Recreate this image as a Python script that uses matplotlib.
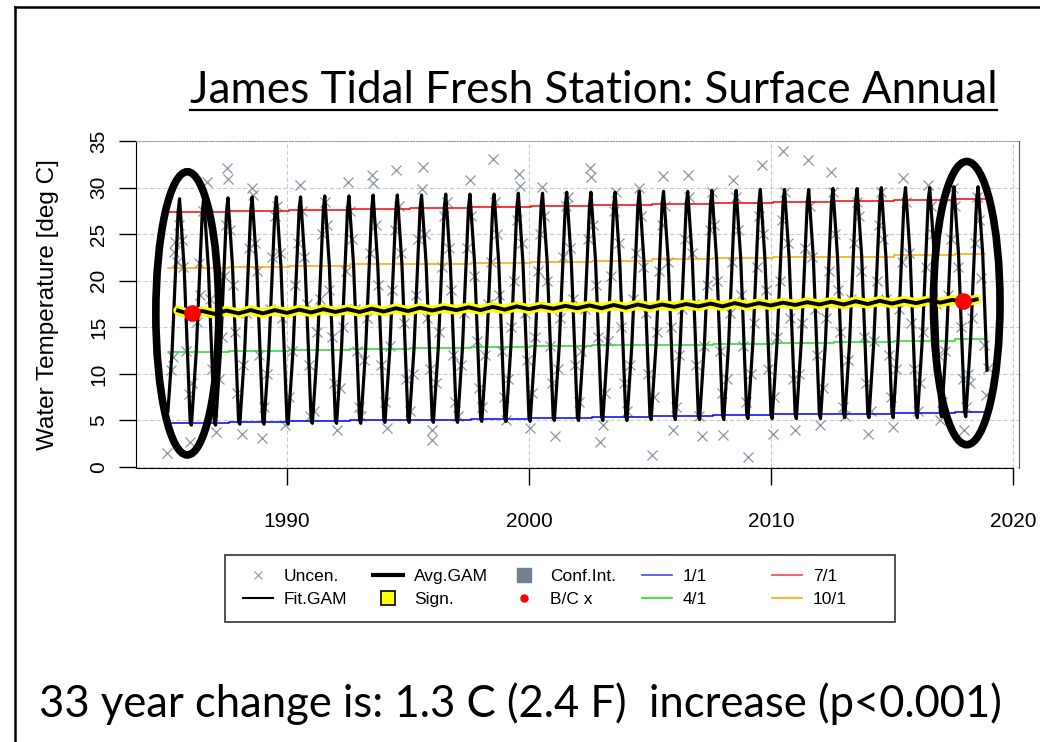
import numpy as np
import matplotlib
matplotlib.use('Agg')
import matplotlib.pyplot as plt
from matplotlib.lines import Line2D
from matplotlib.patches import Ellipse, Rectangle

plt.rcParams['font.family'] = ['Liberation Sans', 'DejaVu Sans']

# ---- data ----
# yearly summer peaks / winter troughs of the fitted GAM curve
peak_years = list(range(1985, 2019))
gam_peaks = [28.8, 28.9, 28.9, 29.0, 29.0, 29.0, 29.1, 29.1, 29.2, 29.2,
             29.2, 29.3, 29.3, 29.3, 29.4, 29.4, 29.5, 29.5, 29.5, 29.6,
             29.6, 29.6, 29.7, 29.7, 29.8, 29.8, 29.8, 29.9, 29.9, 30.0,
             30.0, 30.0, 30.1, 30.1]
trough_years = list(range(1986, 2019))
gam_troughs = [4.5, 4.5, 4.6, 4.6, 4.6, 4.7, 4.7, 4.7, 4.8, 4.8,
               4.8, 4.8, 4.9, 4.9, 4.9, 5.0, 5.0, 5.0, 5.0, 5.1,
               5.1, 5.1, 5.1, 5.2, 5.2, 5.2, 5.2, 5.3, 5.3, 5.3,
               5.3, 5.4, 5.4]
gam_start = (1985.08, 6.0)
gam_end = (2018.93, 10.4)

# mean GAM (half-year steps from 1985.5 to 2018.5)
avg_gam = [16.80,
           16.40, 16.75, 16.45, 16.80, 16.50, 16.85, 16.50, 16.85, 16.55, 16.90,
           16.60, 16.95, 16.65, 16.95, 16.65, 17.00, 16.70, 17.05, 16.75, 17.10,
           16.80, 17.10, 16.85, 17.15, 16.85, 17.20, 16.90, 17.25, 16.95, 17.25,
           17.00, 17.30, 17.05, 17.35, 17.05, 17.40, 17.10, 17.45, 17.15, 17.45,
           17.20, 17.50, 17.25, 17.55, 17.25, 17.60, 17.30, 17.60, 17.35, 17.65,
           17.40, 17.70, 17.45, 17.75, 17.45, 17.80, 17.50, 17.85, 17.55, 17.85,
           17.60, 17.90, 17.65, 17.95, 17.70, 18.00]

# seasonal (1/1, 4/1, 7/1, 10/1) GAM predictions, step lines
step_years = [1985.1, 1987.6, 1990.1, 1992.6, 1995.1, 1997.6, 2000.1,
              2002.6, 2005.1, 2007.6, 2010.1, 2012.6, 2015.1, 2017.6, 2018.85]
jan1 = [4.75, 4.85, 4.95, 5.05, 5.10, 5.20, 5.30, 5.40, 5.50, 5.55, 5.65, 5.75, 5.85, 5.95]
apr1 = [12.35, 12.45, 12.55, 12.65, 12.75, 12.85, 12.95, 13.05, 13.15, 13.25, 13.35, 13.45, 13.55, 13.70]
jul1 = [27.40, 27.50, 27.60, 27.70, 27.80, 27.90, 28.00, 28.10, 28.20, 28.30, 28.40, 28.55, 28.65, 28.80]
oct1 = [21.40, 21.50, 21.60, 21.75, 21.85, 21.95, 22.05, 22.15, 22.30, 22.40, 22.50, 22.60, 22.75, 22.90]

# baseline / current estimates
bc_year = [1986.07, 2017.93]
bc_temp = [16.5, 17.8]

# observations (uncensored)
obs_time = [
    1985.03, 1985.20, 1985.28, 1985.32, 1985.37, 1985.45, 1985.52, 1985.65, 1985.72, 1985.83, 1985.93,
    1986.00, 1986.06, 1986.27, 1986.38, 1986.40, 1986.52, 1986.68, 1986.75, 1986.82, 1986.90, 1986.96,
    1987.08, 1987.18, 1987.30, 1987.40, 1987.47, 1987.53, 1987.57, 1987.66, 1987.76, 1987.86, 1987.95,
    1988.13, 1988.20, 1988.31, 1988.42, 1988.54, 1988.61, 1988.68, 1988.77, 1988.85, 1988.95,
    1989.06, 1989.17, 1989.28, 1989.40, 1989.50, 1989.60, 1989.70, 1989.80, 1989.92,
    1990.08, 1990.22, 1990.33, 1990.44, 1990.54, 1990.62, 1990.72, 1990.82, 1990.90, 1990.97,
    1991.10, 1991.24, 1991.35, 1991.45, 1991.56, 1991.65, 1991.75, 1991.85, 1991.95,
    1992.07, 1992.18, 1992.30, 1992.42, 1992.53, 1992.60, 1992.70, 1992.80, 1992.88, 1992.97,
    1993.05, 1993.20, 1993.32, 1993.43, 1993.50, 1993.55, 1993.66, 1993.78, 1993.88,
    1994.04, 1994.12, 1994.25, 1994.35, 1994.45, 1994.50, 1994.62, 1994.72, 1994.84, 1994.93,
    1995.08, 1995.20, 1995.33, 1995.43, 1995.56, 1995.63, 1995.70, 1995.80, 1995.90, 1995.98,
    1996.00, 1996.15, 1996.28, 1996.40, 1996.50, 1996.60, 1996.68, 1996.78, 1996.87, 1996.95,
    1997.06, 1997.18, 1997.30, 1997.42, 1997.56, 1997.62, 1997.74, 1997.85, 1997.94,
    1998.05, 1998.20, 1998.32, 1998.43, 1998.53, 1998.58, 1998.68, 1998.78, 1998.88, 1998.96,
    1999.04, 1999.15, 1999.27, 1999.38, 1999.50, 1999.60, 1999.63, 1999.72, 1999.82, 1999.92,
    2000.04, 2000.14, 2000.26, 2000.37, 2000.46, 2000.52, 2000.64, 2000.75, 2000.86, 2000.95,
    2001.07, 2001.18, 2001.30, 2001.41, 2001.52, 2001.62, 2001.70, 2001.80, 2001.90,
    2002.05, 2002.17, 2002.30, 2002.42, 2002.52, 2002.55, 2002.66, 2002.77, 2002.87, 2002.93,
    2003.06, 2003.13, 2003.27, 2003.38, 2003.50, 2003.60, 2003.70, 2003.80, 2003.92,
    2004.05, 2004.18, 2004.30, 2004.42, 2004.54, 2004.62, 2004.72, 2004.82, 2004.92,
    2005.07, 2005.15, 2005.28, 2005.38, 2005.48, 2005.55, 2005.64, 2005.74, 2005.85, 2005.96,
    2006.08, 2006.20, 2006.32, 2006.44, 2006.58, 2006.62, 2006.72, 2006.82, 2006.92,
    2007.04, 2007.13, 2007.25, 2007.36, 2007.47, 2007.57, 2007.66, 2007.77, 2007.88, 2007.96,
    2008.03, 2008.17, 2008.30, 2008.40, 2008.44, 2008.55, 2008.65, 2008.76, 2008.86, 2008.95,
    2009.06, 2009.18, 2009.30, 2009.42, 2009.52, 2009.61, 2009.68, 2009.78, 2009.88,
    2010.09, 2010.14, 2010.27, 2010.38, 2010.46, 2010.51, 2010.60, 2010.70, 2010.80, 2010.92,
    2011.00, 2011.15, 2011.28, 2011.40, 2011.54, 2011.60, 2011.70, 2011.80, 2011.90,
    2012.03, 2012.16, 2012.28, 2012.40, 2012.50, 2012.58, 2012.66, 2012.76, 2012.86, 2012.96,
    2013.08, 2013.20, 2013.32, 2013.43, 2013.55, 2013.63, 2013.74, 2013.84, 2013.93,
    2014.02, 2014.12, 2014.25, 2014.37, 2014.48, 2014.56, 2014.65, 2014.76, 2014.87, 2014.95,
    2015.05, 2015.18, 2015.30, 2015.40, 2015.46, 2015.60, 2015.70, 2015.80, 2015.90,
    2016.06, 2016.17, 2016.28, 2016.40, 2016.50, 2016.60, 2016.70, 2016.80, 2016.90, 2016.97,
    2017.07, 2017.20, 2017.32, 2017.42, 2017.54, 2017.62, 2017.74, 2017.84, 2017.92, 2017.98,
    2018.08, 2018.15, 2018.22, 2018.30, 2018.42, 2018.50, 2018.60, 2018.70, 2018.80, 2018.88, 2018.95,
]
obs_temp = [
    1.5, 10.4, 11.8, 23.1, 24.2, 22.0, 26.0, 24.4, 21.5, 12.5, 7.8,
    2.7, 9.0, 15.6, 21.9, 18.5, 27.5, 30.6, 27.2, 18.0, 10.5, 6.0,
    3.8, 9.5, 14.0, 20.5, 26.0, 32.1, 30.9, 25.5, 19.5, 14.5, 8.0,
    3.6, 11.0, 16.5, 23.5, 30.0, 29.2, 24.0, 21.0, 12.0, 3.1,
    6.5, 10.0, 17.0, 22.5, 27.0, 28.0, 23.0, 16.0, 4.5,
    7.5, 12.5, 19.5, 24.0, 30.3, 27.5, 22.5, 17.5, 11.0, 5.5,
    6.0, 14.5, 18.0, 25.0, 28.5, 26.0, 19.0, 14.0, 9.0,
    4.0, 8.5, 15.0, 21.0, 30.6, 27.5, 24.5, 17.0, 12.5, 6.5,
    5.5, 11.5, 16.0, 23.0, 31.3, 30.5, 26.0, 19.5, 11.0,
    7.0, 4.2, 13.0, 19.0, 25.5, 31.9, 28.0, 23.0, 15.5, 9.5,
    6.0, 10.0, 18.5, 24.5, 29.9, 32.2, 25.0, 16.0, 10.5, 2.9,
    4.0, 9.0, 14.5, 21.5, 27.0, 28.5, 23.5, 19.0, 12.0, 7.0,
    5.5, 11.0, 16.5, 23.5, 30.8, 27.0, 20.5, 13.5, 8.5,
    6.5, 12.0, 17.5, 22.0, 33.1, 28.5, 25.0, 18.5, 12.5, 7.5,
    5.0, 9.5, 15.0, 20.0, 26.5, 31.5, 30.2, 24.0, 16.5, 11.5,
    4.2, 8.0, 14.0, 21.0, 25.0, 30.1, 27.0, 20.0, 13.0, 9.0,
    3.3, 10.5, 16.0, 22.5, 28.0, 29.0, 23.5, 18.0, 11.0,
    7.0, 12.5, 17.0, 24.5, 32.1, 31.1, 26.0, 19.5, 14.0, 2.7,
    4.5, 8.0, 13.5, 20.5, 27.5, 29.5, 24.0, 15.0, 9.0,
    6.0, 11.0, 18.0, 23.0, 30.0, 27.0, 21.5, 16.5, 10.0,
    1.3, 7.5, 14.5, 21.0, 26.0, 31.2, 28.0, 22.0, 15.0, 4.0,
    6.5, 12.0, 17.0, 24.5, 31.4, 29.0, 23.0, 17.5, 11.0,
    5.5, 3.3, 13.0, 19.5, 25.5, 29.5, 26.0, 20.0, 12.5, 8.0,
    3.4, 9.5, 16.5, 22.0, 30.8, 29.0, 25.5, 18.5, 13.0, 7.0,
    1.1, 10.0, 15.5, 21.5, 27.0, 32.4, 25.0, 19.0, 10.5,
    3.6, 7.5, 14.0, 20.0, 26.5, 33.9, 29.5, 24.0, 16.0, 9.5,
    4.0, 10.0, 15.5, 23.5, 33.0, 28.0, 22.5, 17.0, 12.0,
    4.5, 8.5, 16.0, 21.0, 31.7, 29.5, 25.0, 19.0, 14.5, 6.5,
    5.5, 11.5, 18.0, 24.0, 28.5, 27.0, 21.0, 14.0, 9.0,
    3.6, 6.0, 13.5, 20.0, 26.0, 29.5, 24.5, 18.0, 12.0, 7.5,
    4.3, 10.5, 17.0, 22.0, 31.0, 28.5, 23.0, 15.5, 10.5,
    6.0, 9.0, 14.5, 21.5, 30.3, 28.0, 25.0, 17.5, 12.0, 5.0,
    7.0, 12.5, 18.5, 24.5, 30.0, 28.0, 21.5, 15.0, 9.5, 4.0,
    6.5, 10.0, 9.0, 16.0, 24.0, 29.0, 26.5, 20.3, 13.1, 7.7, 10.6,
]

# assemble the fitted GAM curve: it runs through the seasonal values
# (1/1, 4/1, 7/1, 10/1) plus the winter trough and summer peak of each year
def seasonal(vals, t):
    return vals[int(np.searchsorted(step_years, t, side='right')) - 1]

fit_t = [gam_start[0]]
fit_v = [gam_start[1]]
for i, yr in enumerate(peak_years):
    if yr in trough_years:
        k = trough_years.index(yr)
        fit_t += [yr + 0.0, yr + 0.05]
        fit_v += [seasonal(jan1, yr + 0.1), gam_troughs[k]]
    fit_t += [yr + 0.25, yr + 0.5, yr + 0.56, yr + 0.75]
    fit_v += [seasonal(apr1, yr + 0.25), seasonal(jul1, yr + 0.5), gam_peaks[i],
              seasonal(oct1, min(yr + 0.75, 2018.8))]
fit_t.append(gam_end[0])
fit_v.append(gam_end[1])

avg_t = np.arange(1985.5, 2018.51, 0.5)

# ---- figure ----
W, H = 1040, 742
fig = plt.figure(figsize=(W / 100, H / 100), dpi=100)
ax = fig.add_axes([136 / W, 1 - 468 / H, (1019 - 136) / W, (468 - 141) / H])

ax.plot(obs_time, obs_temp, ls='none', marker='x', ms=7, mew=0.9,
        color='#8a96a8', zorder=2)

for vals, col in [(jan1, '#0000ff'), (apr1, '#22dd22'), (jul1, '#ff0000'), (oct1, '#ffa500')]:
    ax.step(step_years, vals + [vals[-1]], where='post', color=col, lw=1.1, zorder=3)

ax.plot(fit_t, fit_v, color='black', lw=2.3, zorder=4)
ax.plot(avg_t, avg_gam, color='#ffff00', lw=7, solid_capstyle='round', zorder=5)
ax.plot(avg_t, avg_gam, color='black', lw=2.8, zorder=6)
ax.plot(bc_year, bc_temp, ls='none', marker='o', ms=12, color='red', mec='none', zorder=7)

for (cx, cy, w, h) in [(1985.88, 16.5, 2.6, 30.4), (2018.09, 17.6, 2.75, 30.4)]:
    ax.add_patch(Ellipse((cx, cy), w, h, fill=False, ec='black', lw=5.5, zorder=8))

ax.set_xlim(1983.76, 2020.25)
ax.set_ylim(-0.1, 35)
ax.set_xticks([1990, 2000, 2010, 2020])
ax.set_yticks(np.arange(0, 36, 5))
ax.grid(True, color='#cccccc', ls=(0, (4, 2)), lw=0.8, zorder=0)
ax.set_axisbelow(True)

ax.spines['left'].set_bounds(0, 35)
ax.spines['bottom'].set_bounds(1983.76, 2020)
ax.spines['right'].set_color('#555555')
ax.spines['top'].set_color('#999999')
ax.spines['top'].set_linestyle(':')
ax.tick_params(axis='both', direction='out', length=12, width=1, labelsize=15)
ax.tick_params(axis='x', pad=20)
ax.tick_params(axis='y', pad=8)
for lab in ax.get_yticklabels():
    lab.set_rotation(90)
    lab.set_va('center')

ax.set_ylabel('Water Temperature [deg C]', fontsize=17.5, ha='center', va='center')
ax.yaxis.set_label_coords((48 - 136) / (1019 - 136), 0.5)

# legend, one column at a time so the columns sit at equal spacing
handles = [
    Line2D([], [], ls='none', marker='x', ms=6, mew=0.8, color='#8a96a8'),
    Line2D([], [], color='black', lw=1.5),
    Line2D([], [], color='black', lw=3),
    Line2D([], [], ls='none', marker='s', ms=10, mfc='yellow', mec='black', mew=1.2),
    Line2D([], [], ls='none', marker='s', ms=10, color='#708090'),
    Line2D([], [], ls='none', marker='o', ms=5, color='red'),
    Line2D([], [], color='#4444ff', lw=1.2),
    Line2D([], [], color='#22dd22', lw=1.2),
    Line2D([], [], color='#ff4444', lw=1.2),
    Line2D([], [], color='#ffa500', lw=1.2),
]
labels = ['Uncen.', 'Fit.GAM', 'Avg.GAM', 'Sign.', 'Conf.Int.', 'B/C x',
          '1/1', '4/1', '7/1', '10/1']
col_x = [243, 373, 509, 642, 772]
for c, x0 in enumerate(col_x):
    fig.legend(handles[2 * c:2 * c + 2], labels[2 * c:2 * c + 2], loc='upper left',
               bbox_to_anchor=(x0 / W, 1 - 569 / H), frameon=False, fontsize=12.5,
               borderpad=0, borderaxespad=0, handlelength=1.75, handletextpad=0.6,
               labelspacing=0.42)
fig.add_artist(Rectangle((225 / W, 1 - 622 / H), (895 - 225) / W, (622 - 555) / H,
                         transform=fig.transFigure, fill=False, ec='#333333', lw=1.2))

# slide frame, title, caption
fig.add_artist(Line2D([15 / W, 15 / W], [0, 1 - 7 / H], transform=fig.transFigure, color='black', lw=1.8))
fig.add_artist(Line2D([15 / W, 1], [1 - 7 / H, 1 - 7 / H], transform=fig.transFigure, color='black', lw=1.8))

fig.text(593.5 / W, 1 - 103 / H, 'James Tidal Fresh Station: Surface Annual',
         ha='center', va='baseline', fontsize=31.7, family='Lato')
fig.add_artist(Line2D([190 / W, 997 / W], [1 - 110 / H, 1 - 110 / H], transform=fig.transFigure,
                      color='black', lw=1.6))
fig.text(520 / W, 1 - 717 / H, '33 year change is: 1.3 C (2.4 F)  increase (p<0.001)',
         ha='center', va='baseline', fontsize=31.4, family='Lato')

fig.savefig('out.png', dpi=100)
